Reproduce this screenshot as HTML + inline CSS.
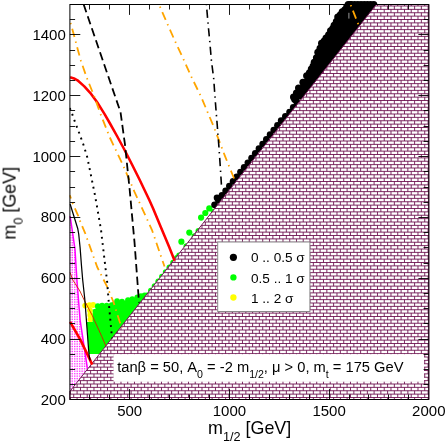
<!DOCTYPE html>
<html><head><meta charset="utf-8"><title>m0 vs m1/2</title>
<style>html,body{margin:0;padding:0;background:#fff;}body{width:446px;height:443px;overflow:hidden;font-family:"Liberation Sans",sans-serif;}svg{display:block;}</style>
</head><body>
<svg width="446" height="443" viewBox="0 0 446 443">
<defs>
<pattern id="pink" patternUnits="userSpaceOnUse" width="1.680" height="1.680">
<rect width="1.680" height="1.680" fill="#fff"/>
<rect width="0.840" height="0.840" fill="#ff00ff"/>
</pattern>
<clipPath id="free"><path d="M69.90,0.50 L379.53,0.50 L68.90,397.84 L69.90,4.50 Z"/></clipPath>
<clipPath id="frame"><rect x="69.90" y="4.50" width="358.90" height="395.00"/></clipPath>
</defs>
<rect width="446" height="443" fill="#fff"/>
<path d="M69.9,216.0 L70.1,216.0 L72.5,232.0 L75.0,249.7 L76.9,280.0 L80.1,320.0 L84.6,349.8 L87.4,368.6 L87.4,369.3 L69.9,391.4 Z" fill="url(#pink)"/>
<path d="M70.1,216.0 L72.5,232.0 L75.0,249.7 L76.9,280.0 L80.1,320.0 L84.6,349.8 L87.4,368.6" fill="none" stroke="#ff00ff" stroke-width="1.5"/>
<circle cx="85.2" cy="305.6" r="2.9" fill="#ffff00"/>
<circle cx="89.5" cy="305.2" r="2.9" fill="#ffff00"/>
<circle cx="93.2" cy="305.0" r="2.9" fill="#ffff00"/>
<circle cx="90.0" cy="310.5" r="2.9" fill="#ffff00"/>
<circle cx="90.3" cy="315.0" r="2.9" fill="#ffff00"/>
<circle cx="90.5" cy="319.3" r="2.9" fill="#ffff00"/>
<path d="M86.5,322.0 L92.6,322.0 L92.8,309.5 L96.0,308.5 L96.0,306.5 L97.8,305.9 L102.1,305.3 L106.7,305.3 L111.6,304.9 L117.1,300.8 L122.0,301.3 L128.0,299.8 L132.3,298.9 L137.3,297.1 L141.0,295.8 L144.6,295.0 L148.2,295.0 L101.5,354.0 L89.0,354.0 Z" fill="#00ff00"/>
<circle cx="97.8" cy="306.2" r="2.9" fill="#00ff00"/>
<circle cx="102.1" cy="305.6" r="2.9" fill="#00ff00"/>
<circle cx="106.7" cy="305.6" r="2.9" fill="#00ff00"/>
<circle cx="111.6" cy="305.2" r="2.9" fill="#00ff00"/>
<circle cx="117.1" cy="301.1" r="2.9" fill="#00ff00"/>
<circle cx="122.0" cy="301.6" r="2.9" fill="#00ff00"/>
<circle cx="128.0" cy="300.1" r="2.9" fill="#00ff00"/>
<circle cx="132.3" cy="299.2" r="2.9" fill="#00ff00"/>
<circle cx="137.3" cy="297.4" r="2.9" fill="#00ff00"/>
<circle cx="141.0" cy="296.1" r="2.9" fill="#00ff00"/>
<circle cx="144.6" cy="295.3" r="2.9" fill="#00ff00"/>
<circle cx="114.5" cy="304.4" r="2.9" fill="#00ff00"/>
<circle cx="139.8" cy="304.8" r="2.9" fill="#00ff00"/>
<circle cx="143.5" cy="300.1" r="2.9" fill="#00ff00"/>
<circle cx="147.2" cy="295.4" r="2.9" fill="#00ff00"/>
<circle cx="150.9" cy="290.7" r="2.9" fill="#00ff00"/>
<circle cx="154.6" cy="286.1" r="2.9" fill="#00ff00"/>
<circle cx="158.3" cy="281.4" r="2.9" fill="#00ff00"/>
<circle cx="162.0" cy="276.7" r="2.9" fill="#00ff00"/>
<circle cx="165.7" cy="272.1" r="2.9" fill="#00ff00"/>
<circle cx="169.4" cy="267.4" r="2.9" fill="#00ff00"/>
<circle cx="173.1" cy="262.7" r="2.9" fill="#00ff00"/>
<circle cx="176.8" cy="258.0" r="2.9" fill="#00ff00"/>
<circle cx="181.4" cy="241.7" r="3.1" fill="#00ff00"/>
<circle cx="189.3" cy="232.6" r="3.1" fill="#00ff00"/>
<circle cx="201.1" cy="217.6" r="3.1" fill="#00ff00"/>
<circle cx="205.3" cy="213.0" r="3.1" fill="#00ff00"/>
<circle cx="209.3" cy="208.4" r="3.1" fill="#00ff00"/>
<circle cx="179.1" cy="255.4" r="2.9" fill="#00ff00"/>
<circle cx="186.4" cy="246.2" r="2.9" fill="#00ff00"/>
<circle cx="194.4" cy="236.1" r="2.9" fill="#00ff00"/>
<circle cx="198.4" cy="231.0" r="2.9" fill="#00ff00"/>
<circle cx="213.7" cy="211.7" r="2.9" fill="#00ff00"/>
<circle cx="214.6" cy="204.8" r="3.4" fill="#000"/>
<circle cx="218.3" cy="200.1" r="3.4" fill="#000"/>
<circle cx="222.0" cy="195.5" r="3.4" fill="#000"/>
<circle cx="225.7" cy="190.8" r="3.4" fill="#000"/>
<circle cx="229.4" cy="186.1" r="3.4" fill="#000"/>
<circle cx="233.1" cy="181.4" r="3.4" fill="#000"/>
<circle cx="236.8" cy="176.8" r="3.4" fill="#000"/>
<circle cx="240.5" cy="172.1" r="3.4" fill="#000"/>
<circle cx="244.2" cy="167.4" r="3.4" fill="#000"/>
<circle cx="247.9" cy="162.8" r="3.4" fill="#000"/>
<circle cx="251.6" cy="158.1" r="3.4" fill="#000"/>
<circle cx="255.3" cy="153.4" r="3.4" fill="#000"/>
<circle cx="259.0" cy="148.7" r="3.4" fill="#000"/>
<circle cx="262.7" cy="144.1" r="3.4" fill="#000"/>
<circle cx="266.4" cy="139.4" r="3.4" fill="#000"/>
<circle cx="270.1" cy="134.7" r="3.4" fill="#000"/>
<circle cx="273.8" cy="130.1" r="3.4" fill="#000"/>
<circle cx="277.5" cy="125.4" r="3.4" fill="#000"/>
<circle cx="281.2" cy="120.7" r="3.4" fill="#000"/>
<circle cx="285.4" cy="116.4" r="3.4" fill="#000"/>
<circle cx="289.6" cy="112.1" r="3.4" fill="#000"/>
<circle cx="293.3" cy="107.4" r="3.4" fill="#000"/>
<circle cx="297.0" cy="102.8" r="3.4" fill="#000"/>
<circle cx="217.0" cy="197.8" r="3.3" fill="#000"/>
<circle cx="296.3" cy="100.6" r="3.4" fill="#000"/>
<circle cx="294.6" cy="99.6" r="3.4" fill="#000"/>
<path d="M293.5,97.0 L298.5,88.0 L306.6,75.8 L311.3,69.0 L314.2,62.3 L317.8,52.3 L321.5,43.3 L326.0,37.9 L330.5,30.7 L334.1,25.3 L337.7,17.1 L342.2,11.7 L346.7,6.8 L350.4,4.6 L377.3,4.6 L301.7,100.0 Z" fill="#000"/>
<circle cx="293.5" cy="97.0" r="3.5" fill="#000"/>
<circle cx="298.5" cy="88.0" r="3.5" fill="#000"/>
<circle cx="306.6" cy="75.8" r="3.5" fill="#000"/>
<circle cx="311.3" cy="69.0" r="3.5" fill="#000"/>
<circle cx="314.2" cy="62.3" r="3.5" fill="#000"/>
<circle cx="317.8" cy="52.3" r="3.5" fill="#000"/>
<circle cx="321.5" cy="43.3" r="3.5" fill="#000"/>
<circle cx="326.0" cy="37.9" r="3.5" fill="#000"/>
<circle cx="330.5" cy="30.7" r="3.5" fill="#000"/>
<circle cx="334.1" cy="25.3" r="3.5" fill="#000"/>
<circle cx="337.7" cy="17.1" r="3.5" fill="#000"/>
<circle cx="342.2" cy="11.7" r="3.5" fill="#000"/>
<circle cx="346.7" cy="6.8" r="3.5" fill="#000"/>
<circle cx="350.4" cy="4.6" r="3.5" fill="#000"/>
<circle cx="296.4" cy="92.9" r="3.5" fill="#000"/>
<circle cx="302.9" cy="82.3" r="3.5" fill="#000"/>
<circle cx="309.4" cy="72.8" r="3.5" fill="#000"/>
<circle cx="313.1" cy="66.1" r="3.5" fill="#000"/>
<circle cx="316.4" cy="57.7" r="3.5" fill="#000"/>
<circle cx="320.0" cy="48.2" r="3.5" fill="#000"/>
<circle cx="324.1" cy="41.0" r="3.5" fill="#000"/>
<circle cx="328.6" cy="34.7" r="3.5" fill="#000"/>
<circle cx="332.7" cy="28.4" r="3.5" fill="#000"/>
<circle cx="336.3" cy="21.6" r="3.5" fill="#000"/>
<circle cx="340.3" cy="14.8" r="3.5" fill="#000"/>
<circle cx="344.8" cy="9.7" r="3.5" fill="#000"/>
<circle cx="348.9" cy="6.1" r="3.5" fill="#000"/>
<circle cx="348.2" cy="4.6" r="3.5" fill="#000"/>
<circle cx="351.4" cy="4.6" r="3.5" fill="#000"/>
<circle cx="354.6" cy="4.6" r="3.5" fill="#000"/>
<circle cx="357.8" cy="4.6" r="3.5" fill="#000"/>
<circle cx="361.0" cy="4.6" r="3.5" fill="#000"/>
<circle cx="364.2" cy="4.6" r="3.5" fill="#000"/>
<circle cx="367.4" cy="4.6" r="3.5" fill="#000"/>
<circle cx="370.6" cy="4.6" r="3.5" fill="#000"/>
<circle cx="373.8" cy="4.6" r="3.5" fill="#000"/>
<clipPath id="bclip"><path d="M69.90,391.37 L376.33,4.50 L428.80,4.50 L428.80,399.50 L69.90,399.50 Z"/></clipPath>
<path d="M69.90,391.37 L376.33,4.50 L428.80,4.50 L428.80,399.50 L69.90,399.50 Z" fill="#fff"/>
<g clip-path="url(#bclip)" stroke="#670748" stroke-width="0.85" fill="none">
<path d="M67.90,400.875H429.8M67.90,397.500H429.8M67.90,394.125H429.8M68.39,390.750H429.8M71.07,387.375H429.8M73.74,384.000H429.8M76.41,380.625H429.8M79.09,377.250H429.8M81.76,373.875H429.8M84.43,370.500H429.8M87.11,367.125H429.8M89.78,363.750H429.8M92.45,360.375H429.8M95.13,357.000H429.8M97.80,353.625H429.8M100.47,350.250H429.8M103.15,346.875H429.8M105.82,343.500H429.8M108.49,340.125H429.8M111.17,336.750H429.8M113.84,333.375H429.8M116.51,330.000H429.8M119.19,326.625H429.8M121.86,323.250H429.8M124.53,319.875H429.8M127.21,316.500H429.8M129.88,313.125H429.8M132.55,309.750H429.8M135.23,306.375H429.8M137.90,303.000H429.8M140.57,299.625H429.8M143.25,296.250H429.8M145.92,292.875H429.8M148.59,289.500H429.8M151.27,286.125H429.8M153.94,282.750H429.8M156.61,279.375H429.8M159.29,276.000H429.8M161.96,272.625H429.8M164.63,269.250H429.8M167.30,265.875H429.8M169.98,262.500H429.8M172.65,259.125H429.8M175.32,255.750H429.8M178.00,252.375H429.8M180.67,249.000H429.8M183.34,245.625H429.8M186.02,242.250H429.8M188.69,238.875H429.8M191.36,235.500H429.8M194.04,232.125H429.8M196.71,228.750H429.8M199.38,225.375H429.8M202.06,222.000H429.8M204.73,218.625H429.8M207.40,215.250H429.8M210.08,211.875H429.8M212.75,208.500H429.8M215.42,205.125H429.8M218.10,201.750H429.8M220.77,198.375H429.8M223.44,195.000H429.8M226.12,191.625H429.8M228.79,188.250H429.8M231.46,184.875H429.8M234.14,181.500H429.8M236.81,178.125H429.8M239.48,174.750H429.8M242.16,171.375H429.8M244.83,168.000H429.8M247.50,164.625H429.8M250.18,161.250H429.8M252.85,157.875H429.8M255.52,154.500H429.8M258.20,151.125H429.8M260.87,147.750H429.8M263.54,144.375H429.8M266.22,141.000H429.8M268.89,137.625H429.8M271.56,134.250H429.8M274.24,130.875H429.8M276.91,127.500H429.8M279.58,124.125H429.8M282.26,120.750H429.8M284.93,117.375H429.8M287.60,114.000H429.8M290.28,110.625H429.8M292.95,107.250H429.8M295.62,103.875H429.8M298.30,100.500H429.8M300.97,97.125H429.8M303.64,93.750H429.8M306.31,90.375H429.8M308.99,87.000H429.8M311.66,83.625H429.8M314.33,80.250H429.8M317.01,76.875H429.8M319.68,73.500H429.8M322.35,70.125H429.8M325.03,66.750H429.8M327.70,63.375H429.8M330.37,60.000H429.8M333.05,56.625H429.8M335.72,53.250H429.8M338.39,49.875H429.8M341.07,46.500H429.8M343.74,43.125H429.8M346.41,39.750H429.8M349.09,36.375H429.8M351.76,33.000H429.8M354.43,29.625H429.8M357.11,26.250H429.8M359.78,22.875H429.8M362.45,19.500H429.8M365.13,16.125H429.8M367.80,12.750H429.8M370.47,9.375H429.8M373.15,6.000H429.8"/>
<path d="M428.100,400.875V-3.5M421.350,400.875V-3.5M414.600,400.875V-3.5M407.850,400.875V-3.5M401.100,400.875V-3.5M394.350,400.875V-3.5M387.600,400.875V-3.5M380.850,400.875V-3.5M374.100,400.875V-0.7M367.350,400.875V7.8M360.600,400.875V16.4M353.850,400.875V24.9M347.100,400.875V33.4M340.350,400.875V41.9M333.600,400.875V50.5M326.850,400.875V59.0M320.100,400.875V67.5M313.350,400.875V76.0M306.600,400.875V84.5M299.850,400.875V93.1M293.100,400.875V101.6M286.350,400.875V110.1M279.600,400.875V118.6M272.850,400.875V127.1M266.100,400.875V135.7M259.350,400.875V144.2M252.600,400.875V152.7M245.850,400.875V161.2M239.100,400.875V169.8M232.350,400.875V178.3M225.600,400.875V186.8M218.850,400.875V195.3M212.100,400.875V203.8M205.350,400.875V212.4M198.600,400.875V220.9M191.850,400.875V229.4M185.100,400.875V237.9M178.350,400.875V246.5M171.600,400.875V255.0M164.850,400.875V263.5M158.100,400.875V272.0M151.350,400.875V280.5M144.600,400.875V289.1M137.850,400.875V297.6M131.100,400.875V306.1M124.350,400.875V314.6M117.600,400.875V323.2M110.850,400.875V331.7M104.100,400.875V340.2M97.350,400.875V348.7M90.600,400.875V357.2M83.850,400.875V365.8M77.100,400.875V374.3M70.350,400.875V382.8" stroke-dasharray="3.375 3.375" stroke-dashoffset="0.000"/>
<path d="M424.725,400.875V-3.5M417.975,400.875V-3.5M411.225,400.875V-3.5M404.475,400.875V-3.5M397.725,400.875V-3.5M390.975,400.875V-3.5M384.225,400.875V-3.5M377.475,400.875V-3.5M370.725,400.875V3.6M363.975,400.875V12.1M357.225,400.875V20.6M350.475,400.875V29.1M343.725,400.875V37.7M336.975,400.875V46.2M330.225,400.875V54.7M323.475,400.875V63.2M316.725,400.875V71.8M309.975,400.875V80.3M303.225,400.875V88.8M296.475,400.875V97.3M289.725,400.875V105.8M282.975,400.875V114.4M276.225,400.875V122.9M269.475,400.875V131.4M262.725,400.875V139.9M255.975,400.875V148.5M249.225,400.875V157.0M242.475,400.875V165.5M235.725,400.875V174.0M228.975,400.875V182.5M222.225,400.875V191.1M215.475,400.875V199.6M208.725,400.875V208.1M201.975,400.875V216.6M195.225,400.875V225.2M188.475,400.875V233.7M181.725,400.875V242.2M174.975,400.875V250.7M168.225,400.875V259.2M161.475,400.875V267.8M154.725,400.875V276.3M147.975,400.875V284.8M141.225,400.875V293.3M134.475,400.875V301.8M127.725,400.875V310.4M120.975,400.875V318.9M114.225,400.875V327.4M107.475,400.875V335.9M100.725,400.875V344.5M93.975,400.875V353.0M87.225,400.875V361.5M80.475,400.875V370.0M73.725,400.875V378.5" stroke-dasharray="3.375 3.375" stroke-dashoffset="3.375"/>
</g>
<path d="M69.90,391.37 L376.33,4.50 L428.80,4.50 L428.80,399.50 L69.90,399.50 Z" fill="none" stroke="#670748" stroke-width="0.9"/>
<g fill="none" stroke-linejoin="round" clip-path="url(#free)">
<path d="M70.1,77.3 L74.0,78.4 L77.5,80.3 L84.3,86.4 L91.1,93.9 L97.9,103.3 L104.6,114.2 L110.0,123.5 L117.0,136.0 L124.6,150.0 L132.0,164.5 L139.5,179.5 L149.3,200.0 L153.1,208.5 L161.0,227.5 L169.3,247.2 L174.6,260.8" stroke="#ff0000" stroke-width="2.55"/>
<path d="M70.1,321.8 L80.3,339.6 L89.1,357.9 L92.2,364.6" stroke="#ff0000" stroke-width="2.6"/>
<path d="M70.1,272.5 L72.8,280 L79.9,291 L84.3,300.3 L92.3,315.5 L95.2,322 L101.7,336.3 L105.9,346" stroke="#d81c00" stroke-width="0.9"/>
<path d="M69.8,20.2 L70.8,23.7 L74.2,36.1 L78.1,50.8 L80.9,60.7 L86.8,77.9 L94.1,95.9 L100.3,113.5 L109.7,137.2 L123.3,165.8 L134.5,191.9 L138.5,200.5 L151.9,229.8 L164.5,266.5" stroke="#ffa500" stroke-width="1.8" stroke-dasharray="1.40 4.60 8.60 4.60" stroke-dashoffset="16.3"/>
<path d="M158.8,4.5 L160.2,7.2 L167.6,24.4 L175.5,42.2 L183.4,59.1 L191.3,76.7 L198.5,91.4 L201.0,96.5 L213.9,127.1 L225.1,156.4 L234.5,179.5" stroke="#ffa500" stroke-width="1.8" stroke-dasharray="1.40 4.60 8.60 4.60" stroke-dashoffset="16.9"/>
<path d="M350.5,4.5 L358.8,25.6" stroke="#ffa500" stroke-width="1.8" stroke-dasharray="1.40 4.60 8.60 4.60" stroke-dashoffset="18.6"/>
<path d="M69.8,195.2 L72.8,203.5 L78.3,216.2 L80.1,221.2 L84.8,232.3 L97.2,267.0 L107.2,286.9 L113.4,301.8 L119.8,322.0 L122.0,328.0" stroke="#ffa500" stroke-width="1.8" stroke-dasharray="1.40 4.60 8.60 4.60" stroke-dashoffset="11.1"/>
<path d="M83.7,4.5 L104.0,64.0 L120.5,112.0 L125.0,144.7 L129.7,190.0 L134.5,242.2 L139.0,302.6" stroke="#000" stroke-width="1.8" stroke-dasharray="8.4 4.3" stroke-dashoffset="0.3"/>
<path d="M69.8,108.0 L70.1,108.8 L72.4,114.6 L74.5,120.7 L79.0,132.5 L83.3,144.3 L87.0,156.2 L89.8,169.5 L92.3,182.0 L94.8,194.4 L96.8,205.5 L101.0,229.8 L104.2,257.1 L107.1,281.4 L109.1,306.4 L111.4,331.5 L112.0,338.4" stroke="#000" stroke-width="1.95" stroke-dasharray="1.9 4.44" stroke-dashoffset="0"/>
<path d="M206.4,4.5 L208.0,23.0 L209.8,41.8 L211.4,60.5 L213.7,78.6 L215.0,97.1 L215.4,102.3 L217.2,124.8 L218.8,145.1 L220.2,165.5 L221.5,186.0" stroke="#000" stroke-width="1.6" stroke-dasharray="1.4 4.5 8.2 4.5" stroke-dashoffset="0.7"/>
<path d="M70.1,204.0 L77.8,228.8 L78.7,234.0 L80.1,247.6 L81.4,264.7 L82.7,280.0 L84.8,299.3 L86.4,320.0 L87.5,335.0 L88.6,349.8 L89.3,356.5 L90.2,360.5" stroke="#000" stroke-width="1.25"/>
</g>
<path d="M348.9,12.8V18.6" stroke="#999" stroke-width="1"/>
<rect x="217.7" y="242" width="92.2" height="69.5" fill="#fff" stroke="#8a8a8a" stroke-width="1"/>
<rect x="113.5" y="354.2" width="310.5" height="27.5" fill="#fff"/>
<circle cx="233.4" cy="257.3" r="3.6" fill="#000"/>
<circle cx="233.4" cy="277.4" r="3.15" fill="#00ff00"/>
<circle cx="233.4" cy="297.5" r="3.15" fill="#ffff00"/>
<path d="M89.50,4.50v5.00 M89.50,399.50v-5.00 M109.50,4.50v5.00 M109.50,399.50v-5.00 M129.50,4.50v10.40 M129.50,399.50v-10.40 M149.50,4.50v5.00 M149.50,399.50v-5.00 M169.50,4.50v5.00 M169.50,399.50v-5.00 M189.50,4.50v5.00 M189.50,399.50v-5.00 M209.50,4.50v5.00 M209.50,399.50v-5.00 M229.50,4.50v10.40 M229.50,399.50v-10.40 M249.50,4.50v5.00 M249.50,399.50v-5.00 M269.50,4.50v5.00 M269.50,399.50v-5.00 M289.50,4.50v5.00 M289.50,399.50v-5.00 M309.50,4.50v5.00 M309.50,399.50v-5.00 M329.50,4.50v10.40 M329.50,399.50v-10.40 M349.50,4.50v5.00 M349.50,399.50v-5.00 M368.50,4.50v5.00 M368.50,399.50v-5.00 M388.50,4.50v5.00 M388.50,399.50v-5.00 M408.50,4.50v5.00 M408.50,399.50v-5.00 M69.90,384.50h5.20 M428.80,384.50h-5.20 M69.90,369.50h5.20 M428.80,369.50h-5.20 M69.90,354.50h5.20 M428.80,354.50h-5.20 M69.90,339.50h10.40 M428.80,339.50h-10.40 M69.90,323.50h5.20 M428.80,323.50h-5.20 M69.90,308.50h5.20 M428.80,308.50h-5.20 M69.90,293.50h5.20 M428.80,293.50h-5.20 M69.90,278.50h10.40 M428.80,278.50h-10.40 M69.90,263.50h5.20 M428.80,263.50h-5.20 M69.90,247.50h5.20 M428.80,247.50h-5.20 M69.90,232.50h5.20 M428.80,232.50h-5.20 M69.90,217.50h10.40 M428.80,217.50h-10.40 M69.90,202.50h5.20 M428.80,202.50h-5.20 M69.90,187.50h5.20 M428.80,187.50h-5.20 M69.90,171.50h5.20 M428.80,171.50h-5.20 M69.90,156.50h10.40 M428.80,156.50h-10.40 M69.90,141.50h5.20 M428.80,141.50h-5.20 M69.90,126.50h5.20 M428.80,126.50h-5.20 M69.90,110.50h5.20 M428.80,110.50h-5.20 M69.90,95.50h10.40 M428.80,95.50h-10.40 M69.90,80.50h5.20 M428.80,80.50h-5.20 M69.90,65.50h5.20 M428.80,65.50h-5.20 M69.90,50.50h5.20 M428.80,50.50h-5.20 M69.90,34.50h10.40 M428.80,34.50h-10.40 M69.90,19.50h5.20 M428.80,19.50h-5.20" stroke="#000" stroke-width="0.9" fill="none"/>
<rect x="69.90" y="4.50" width="358.90" height="395.00" fill="none" stroke="#000" stroke-width="1.0"/>
<g font-family="'Liberation Sans', sans-serif" fill="#000" style="opacity:0.999">
<text x="251" y="262.3" font-size="13.6" xml:space="preserve">0 .. 0.5 σ</text>
<text x="251" y="282.5" font-size="13.6" xml:space="preserve">0.5 .. 1 σ</text>
<text x="251" y="302.7" font-size="13.6" xml:space="preserve">1 .. 2 σ</text>
<text x="129.7" y="415.7" font-size="15.0" text-anchor="middle">500</text>
<text x="229.4" y="415.7" font-size="15.0" text-anchor="middle">1000</text>
<text x="329.1" y="415.7" font-size="15.0" text-anchor="middle">1500</text>
<text x="428.8" y="415.7" font-size="15.0" text-anchor="middle">2000</text>
<text x="65.8" y="404.8" font-size="15.0" text-anchor="end">200</text>
<text x="65.8" y="344.0" font-size="15.0" text-anchor="end">400</text>
<text x="65.8" y="283.2" font-size="15.0" text-anchor="end">600</text>
<text x="65.8" y="222.3" font-size="15.0" text-anchor="end">800</text>
<text x="65.8" y="161.5" font-size="15.0" text-anchor="end">1000</text>
<text x="65.8" y="100.7" font-size="15.0" text-anchor="end">1200</text>
<text x="65.8" y="39.9" font-size="15.0" text-anchor="end">1400</text>
<text id="mainlabel" x="117.2" y="371.5" font-size="14.7" xml:space="preserve">tanβ = 50, A<tspan font-size="10.6" dy="6">0</tspan><tspan dy="-6"> = -2 m</tspan><tspan font-size="10.6" dy="6">1/2</tspan><tspan dy="-6">, μ &gt; 0, m</tspan><tspan font-size="10.6" dy="6">t</tspan><tspan dy="-6"> = 175 GeV</tspan></text>
<text id="xlabel" x="208.0" y="433.8" font-size="17.9" xml:space="preserve">m<tspan font-size="12.7" dy="7.2">1/2</tspan><tspan dy="-7.2"> [GeV]</tspan></text>
<text id="ylabel" transform="translate(15.6,239.6) rotate(-90)" font-size="17.9" xml:space="preserve">m<tspan font-size="12.7" dy="7.2">0</tspan><tspan dy="-7.2"> [GeV]</tspan></text>
</g>
</svg>
</body></html>
